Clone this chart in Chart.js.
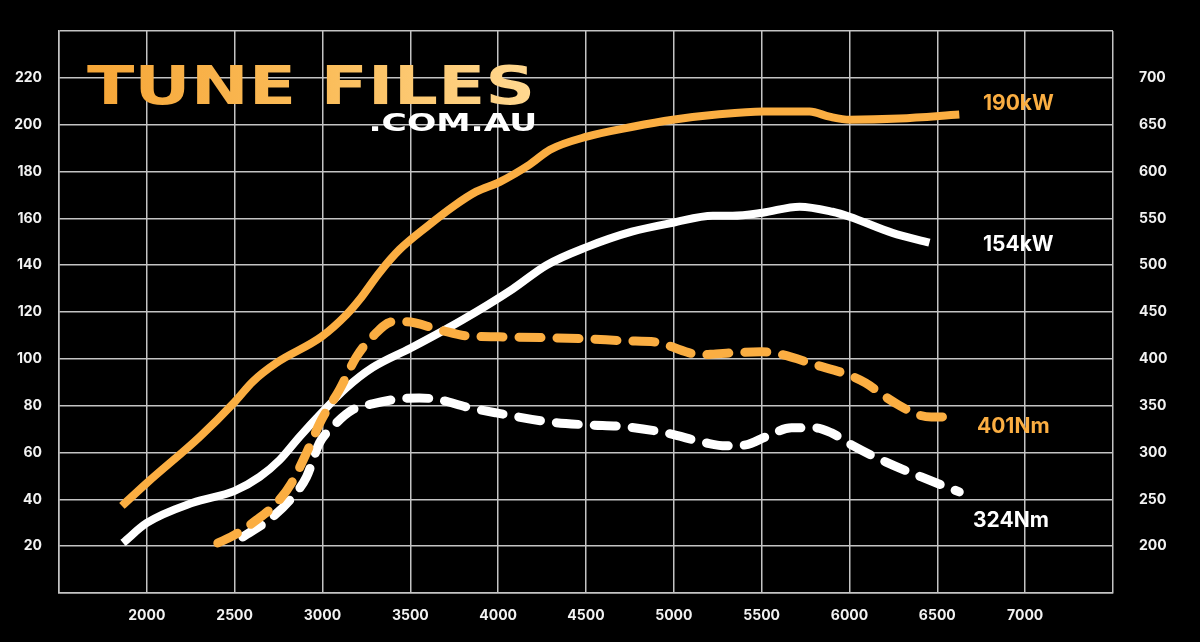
<!DOCTYPE html>
<html>
<head>
<meta charset="utf-8">
<script src="https://cdn.jsdelivr.net/npm/chart.js@4/dist/chart.umd.min.js"></script>
<style>
  html, body { margin: 0; padding: 0; background: #000; }
  #wrap { position: relative; width: 1200px; height: 642px; overflow: hidden; background: #000; }
  canvas { position: absolute; left: 0; top: 0; }
  .logo { position: absolute; font-family: "DejaVu Sans", sans-serif; font-weight: bold; white-space: nowrap; line-height: 1; }
  #logo1 { left: 87px; top: 59px; font-size: 53px; transform-origin: 0 0; transform: scaleX(1.31);
           background: linear-gradient(90deg, #F6A637 0%, #FBBE5C 55%, #FFD891 100%);
           -webkit-background-clip: text; background-clip: text; color: transparent; }
  #logo2 { right: 663px; top: 110px; font-size: 25px; color: #fff; transform-origin: 100% 0; transform: scaleX(1.38); }
  .end { position: absolute; font-family: Inter, "Open Sans", sans-serif; font-weight: 700; font-size: 21px; line-height: 1; white-space: nowrap; transform: translateY(-50%); }
</style>
</head>
<body>
<div id="wrap">
  <canvas id="c" width="1200" height="642"></canvas>
  <div class="logo" id="logo1">TUNE FILES</div>
  <div class="logo" id="logo2">.COM.AU</div>
  <div class="end" style="left:983px;top:102px;color:#FBAE42;">190kW</div>
  <div class="end" style="left:983px;top:243px;color:#fff;">154kW</div>
  <div class="end" style="left:977px;top:425px;color:#FBAE42;">401Nm</div>
  <div class="end" style="left:973px;top:519px;color:#fff;">324Nm</div>
</div>
<script>
// ---- data ----
const tunedPowerRpm = [1858, 2000, 2301, 2500, 2602, 2739, 2994, 3136, 3210, 3324, 3438, 3600, 3750, 3875, 4010, 4180, 4295, 4505, 4766, 4994, 5244, 5506, 5773, 5886, 6000, 6284, 6625];
const tunedPowerKw  = [37.2, 47.0, 66.7, 81.6, 90.2, 98.3, 109.4, 118.8, 125.2, 136.8, 146.6, 156.8, 165.4, 171.4, 175.6, 183.0, 189.3, 194.9, 199.1, 202.1, 204.3, 205.6, 205.6, 203.4, 202.1, 202.6, 204.3];

const stockPowerRpm = [1864, 2000, 2261, 2500, 2642, 2756, 2869, 2994, 3136, 3284, 3500, 3798, 4082, 4275, 4500, 4761, 4994, 5222, 5335, 5506, 5716, 5903, 6000, 6244, 6455];
const stockPowerKw  = [21.4, 29.9, 38.5, 43.6, 49.6, 56.8, 66.7, 76.9, 87.6, 96.2, 104.5, 116.7, 129.8, 140.0, 147.6, 154.3, 158.1, 161.1, 161.1, 162.4, 165.0, 162.8, 160.7, 153.8, 149.6];

const tunedTorqueRpm = [2404, 2489, 2625, 2739, 2824, 2909, 2994, 3096, 3193, 3284, 3398, 3477, 3665, 3818, 4006, 4500, 4727, 4932, 4989, 5159, 5239, 5500, 5597, 5807, 5994, 6091, 6205, 6278, 6392, 6466, 6551];
const tunedTorqueNm  = [203.4, 210.9, 228.0, 246.2, 267.5, 299.6, 334.8, 366.9, 402.1, 423.5, 439.5, 439.5, 431.0, 424.6, 423.5, 421.4, 419.2, 417.1, 412.8, 404.3, 405.3, 407.5, 405.3, 393.6, 382.9, 374.4, 359.4, 350.9, 340.2, 338.0, 338.0];

const stockTorqueRpm = [2546, 2716, 2830, 2909, 2983, 3057, 3170, 3284, 3438, 3551, 3665, 3818, 3989, 4290, 4500, 4727, 4955, 5182, 5295, 5409, 5523, 5670, 5807, 5898, 6011, 6205, 6409, 6625];
const stockTorqueNm  = [209.8, 231.2, 252.6, 273.9, 310.3, 327.4, 345.5, 351.9, 357.3, 358.3, 356.2, 348.7, 342.3, 332.7, 329.5, 327.4, 320.9, 310.3, 307.1, 308.1, 316.7, 326.3, 326.3, 320.9, 308.1, 290.0, 273.9, 257.9];

const rpmTicks = [2000, 2500, 3000, 3500, 4000, 4500, 5000, 5500, 6000, 6500, 7000];
const kwTicks = [20, 40, 60, 80, 100, 120, 140, 160, 180, 200, 220];
const nmTicks = [200, 250, 300, 350, 400, 450, 500, 550, 600, 650, 700];

const ORANGE = '#FBAE42';
const WHITE = '#FFFFFF';
const GRID = '#C4C4C4';

const pts = (xs, ys) => xs.map((x, i) => ({ x: x, y: ys[i] }));

const tickFont = { family: 'Inter, "Open Sans", sans-serif', size: 14, weight: '700' };

new Chart(document.getElementById('c'), {
  type: 'line',
  data: {
    datasets: [
      { label: 'Tuned torque', data: pts(tunedTorqueRpm, tunedTorqueNm), yAxisID: 'y1', borderColor: ORANGE, borderWidth: 9, borderDash: [22, 16], borderCapStyle: 'round', borderJoinStyle: 'round', pointRadius: 0, cubicInterpolationMode: 'monotone', order: 0 },
      { label: 'Stock torque', data: pts(stockTorqueRpm, stockTorqueNm), yAxisID: 'y1', borderColor: WHITE, borderWidth: 9, borderDash: [22, 16], borderCapStyle: 'round', borderJoinStyle: 'round', pointRadius: 0, cubicInterpolationMode: 'monotone', order: 3 },
      { label: 'Tuned power', data: pts(tunedPowerRpm, tunedPowerKw), yAxisID: 'y', borderColor: ORANGE, borderWidth: 8, borderCapStyle: 'butt', borderJoinStyle: 'round', pointRadius: 0, cubicInterpolationMode: 'monotone', order: 1 },
      { label: 'Stock power', data: pts(stockPowerRpm, stockPowerKw), yAxisID: 'y', borderColor: WHITE, borderWidth: 8, borderCapStyle: 'butt', borderJoinStyle: 'round', pointRadius: 0, cubicInterpolationMode: 'monotone', order: 2 }
    ]
  },
  options: {
    responsive: false,
    animation: false,
    layout: { padding: { top: 31, left: 0, right: 0, bottom: 0 } },
    plugins: { legend: { display: false }, tooltip: { enabled: false } },
    scales: {
      x: {
        type: 'linear', min: 1500, max: 7500,
        afterBuildTicks: s => { s.ticks = [1500].concat(rpmTicks, [7500]).map(v => ({ value: v })); },
        afterFit: s => { s.height = 49; s.paddingLeft = 0; s.paddingRight = 0; },
        grid: { color: GRID, lineWidth: 1.5, drawTicks: false },
        border: { color: GRID, width: 1.5 },
        ticks: { color: '#F2F2F2', font: tickFont, padding: 14, maxRotation: 0, autoSkip: false,
                 callback: v => rpmTicks.includes(v) ? String(v) : '' }
      },
      y: {
        position: 'left', min: 0, max: 240,
        afterBuildTicks: s => { s.ticks = [0].concat(kwTicks, [240]).map(v => ({ value: v })); },
        afterFit: s => { s.width = 59; s.paddingTop = 0; s.paddingBottom = 0; },
        grid: { color: GRID, lineWidth: 1.5, drawTicks: false },
        border: { color: GRID, width: 1.5 },
        ticks: { color: '#F2F2F2', font: tickFont, padding: 17, autoSkip: false,
                 callback: v => kwTicks.includes(v) ? String(v) : '' }
      },
      y1: {
        position: 'right', min: 150, max: 750,
        afterBuildTicks: s => { s.ticks = [150].concat(nmTicks, [750]).map(v => ({ value: v })); },
        afterFit: s => { s.width = 87; s.paddingTop = 0; s.paddingBottom = 0; },
        grid: { drawOnChartArea: false, drawTicks: false },
        border: { display: false },
        ticks: { color: '#F2F2F2', font: tickFont, padding: 26, autoSkip: false,
                 callback: v => nmTicks.includes(v) ? String(v) : '' }
      }
    }
  }
});
</script>
</body>
</html>
